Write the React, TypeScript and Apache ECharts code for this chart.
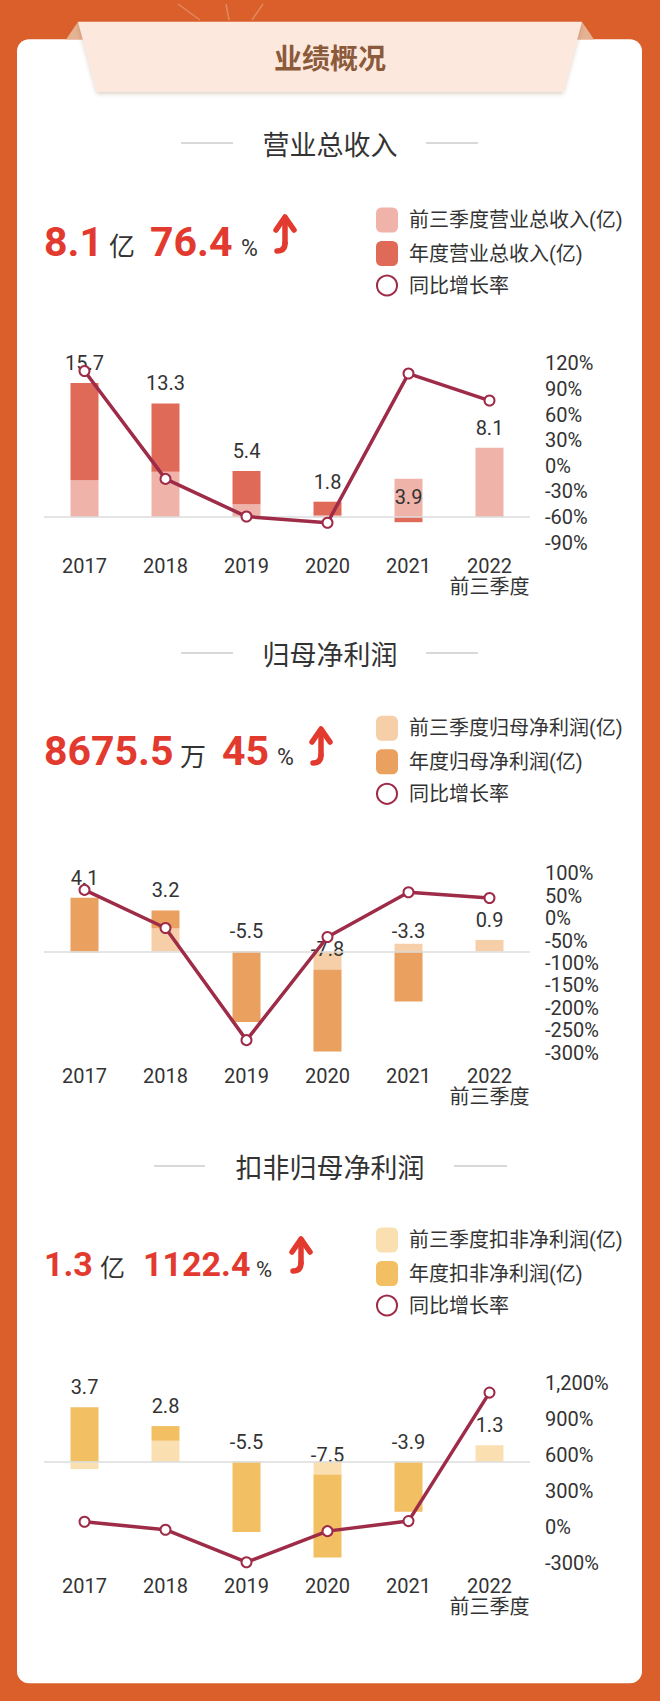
import React, { useEffect, useRef } from "react";
import * as echarts from "echarts";

const categories = ["2017", "2018", "2019", "2020", "2021", "2022\n前三季度"];

// 营业总收入 (亿)
const revQ3 = [4.3, 5.3, 1.5, 0.2, 4.5, 8.1];
const revAnnual = [15.7, 13.3, 5.4, 1.8, 3.9, null];
const revGrowth = [111, -15.3, -59.4, -66.7, 108, 76.4];

// 归母净利润 (亿)
const npQ3 = [-0.1, 1.8, 0, -1.4, 0.6, 0.9];
const npAnnual = [4.1, 3.2, -5.5, -7.8, -3.3, null];
const npGrowth = [63, -22, -272, -42, 57.7, 45];

// 扣非净利润 (亿)
const dnQ3 = [-0.57, 1.65, 0, -1.0, 0, 1.3];
const dnAnnual = [3.7, 2.8, -5.5, -7.5, -3.9, null];
const dnGrowth = [42, -24, -296, -36, 48, 1122.4];

const RED = "#E23A2F";
const LINE = "#9E2B47";
const NUMFONT = "Roboto, 'Noto Sans CJK SC', sans-serif";
const CJK = "'Noto Sans CJK SC', Roboto, sans-serif";

const sections = [
  {
    title: "营业总收入",
    q3Name: "前三季度营业总收入(亿)",
    annName: "年度营业总收入(亿)",
    q3: revQ3, ann: revAnnual, growth: revGrowth,
    light: "#EFB3A9", dark: "#E06A58",
    leftMin: -3, leftMax: 18, leftInterval: 3,
    rightMin: -90, rightMax: 120, rightInterval: 30,
  },
  {
    title: "归母净利润",
    q3Name: "前三季度归母净利润(亿)",
    annName: "年度归母净利润(亿)",
    q3: npQ3, ann: npAnnual, growth: npGrowth,
    light: "#F6CFA8", dark: "#EAA05E",
    leftMin: -7.9, leftMax: 6.1, leftInterval: undefined,
    rightMin: -300, rightMax: 100, rightInterval: 50,
  },
  {
    title: "扣非归母净利润",
    q3Name: "前三季度扣非净利润(亿)",
    annName: "年度扣非净利润(亿)",
    q3: dnQ3, ann: dnAnnual, growth: dnGrowth,
    light: "#FAE0B0", dark: "#F2BF62",
    leftMin: -7.9, leftMax: 6.15, leftInterval: undefined,
    rightMin: -300, rightMax: 1200, rightInterval: 300,
  },
];

const gridTops = [363.3, 873.3, 1383.3];
const legendTops = [207.5, 715.8, 1227.5];
const titleYs = [143, 653, 1166];

function arrow(x: number, top: number, bottom: number) {
  const st = { stroke: RED, lineWidth: 5.5, fill: null, lineCap: "round", lineJoin: "round" };
  return [
    { type: "polyline", shape: { points: [[x - 9, top + 13], [x, top], [x + 9, top + 13]] }, style: st },
    { type: "line", shape: { x1: x, y1: top + 1, x2: x, y2: bottom - 8 }, style: st },
    { type: "bezierCurve", shape: { x1: x, y1: bottom - 8, cpx1: x, cpy1: bottom, x2: x - 8, y2: bottom }, style: st },
  ];
}

function txt(text: string, x: number, y: number, size: number, color: string, bold = false, family = NUMFONT, align = "left") {
  return {
    type: "text",
    x, y,
    style: {
      text, fill: color, fontSize: size, fontWeight: bold ? "bold" : "normal",
      fontFamily: family, textAlign: align, textVerticalAlign: "middle",
    },
  };
}

function titleBlock(title: string, y: number, l1: number[], l2: number[]) {
  const ls = { stroke: "#CCCCCC", lineWidth: 1.5 };
  return [
    txt(title, 330, y, 27, "#333333", false, CJK, "center"),
    { type: "line", shape: { x1: l1[0], y1: y, x2: l1[1], y2: y }, style: ls },
    { type: "line", shape: { x1: l2[0], y1: y, x2: l2[1], y2: y }, style: ls },
  ];
}

export default function App() {
  const ref = useRef<HTMLDivElement>(null);
  useEffect(() => {
    if (!ref.current) return;
    const chart = echarts.init(ref.current, undefined, { renderer: "svg" });

    const graphic: any[] = [
      { type: "line", shape: { x1: 178, y1: 4, x2: 200, y2: 20 }, style: { stroke: "rgba(255,255,255,0.25)", lineWidth: 1.5 } },
      { type: "line", shape: { x1: 226, y1: 4, x2: 229, y2: 20 }, style: { stroke: "rgba(255,255,255,0.25)", lineWidth: 1.5 } },
      { type: "line", shape: { x1: 263, y1: 4, x2: 252, y2: 20 }, style: { stroke: "rgba(255,255,255,0.25)", lineWidth: 1.5 } },
      { type: "rect", shape: { x: 17, y: 39.3, width: 625, height: 1644, r: 12 }, style: { fill: "#FFFFFF" } },
      { type: "polygon", shape: { points: [[66, 39.5], [78, 21.7], [85, 39.5]] }, style: { fill: "#E5B292" } },
      { type: "polygon", shape: { points: [[594, 39.5], [582, 21.7], [575, 39.5]] }, style: { fill: "#E5B292" } },
      {
        type: "polygon",
        shape: { points: [[78, 21.7], [582, 21.7], [563, 91.7], [97, 91.7]] },
        style: { fill: "#FCE8DD", shadowBlur: 4, shadowColor: "rgba(120,60,30,0.25)", shadowOffsetY: 2 },
      },
      txt("业绩概况", 330, 57, 28, "#8B5A3B", true, CJK, "center"),
      ...titleBlock("营业总收入", titleYs[0], [181, 233], [426, 478]),
      ...titleBlock("归母净利润", titleYs[1], [181, 233], [426, 478]),
      ...titleBlock("扣非归母净利润", titleYs[2], [154, 205], [454, 507]),
      // section 1 headline
      txt("8.1", 44, 242, 41, RED, true),
      txt("亿", 109, 244, 26, "#333333", false, CJK),
      txt("76.4", 150, 242, 41, RED, true),
      txt("%", 241, 248, 23, "#333333"),
      ...arrow(285, 217, 251),
      // section 2 headline
      txt("8675.5", 44, 751, 41, RED, true),
      txt("万", 180, 754, 26, "#333333", false, CJK),
      txt("45", 222, 751, 41, RED, true),
      txt("%", 277, 757, 23, "#333333"),
      ...arrow(321, 729, 763),
      // section 3 headline
      txt("1.3", 44, 1264, 34, RED, true),
      txt("亿", 100, 1266, 25, "#333333", false, CJK),
      txt("1122.4", 143, 1264, 34, RED, true),
      txt("%", 256, 1269, 22, "#333333"),
      ...arrow(301, 1239, 1271),
    ];

    const grid: any[] = [];
    const xAxis: any[] = [];
    const yAxis: any[] = [];
    const series: any[] = [];
    const legend: any[] = [];

    sections.forEach((s, i) => {
      grid.push({ left: 44, width: 486, top: gridTops[i], height: 179.4 });
      xAxis.push({
        type: "category", gridIndex: i, data: categories,
        axisLine: { show: false }, axisTick: { show: false }, splitLine: { show: false },
        axisLabel: { color: "#333333", fontSize: 20, fontFamily: NUMFONT, margin: 13, lineHeight: 21, interval: 0 },
      });
      yAxis.push({
        type: "value", gridIndex: i, show: false, min: s.leftMin, max: s.leftMax,
        interval: s.leftInterval, splitLine: { show: false },
      });
      yAxis.push({
        type: "value", gridIndex: i, position: "right", min: s.rightMin, max: s.rightMax, interval: s.rightInterval,
        axisLine: { show: false }, axisTick: { show: false }, splitLine: { show: false },
        axisLabel: {
          color: "#333333", fontSize: 20, fontFamily: NUMFONT, margin: 15,
          formatter: (v: number) => v.toLocaleString("en-US") + "%",
        },
      });
      const q4 = s.ann.map((a, k) => (a === null ? "-" : Math.round((a - s.q3[k]) * 100) / 100));
      const q3Data = s.q3.map((v, k) =>
        s.ann[k] === null
          ? { value: v, label: { show: true, position: "top", distance: 10, formatter: () => v.toFixed(1) } }
          : v
      );
      series.push({
        name: s.q3Name, type: "bar", stack: "s" + i, xAxisIndex: i, yAxisIndex: i * 2,
        barWidth: 28, itemStyle: { color: s.light }, data: q3Data,
        label: { show: false, color: "#333333", fontSize: 20, fontFamily: NUMFONT },
        markLine: {
          silent: true, symbol: ["none", "none"], label: { show: false },
          lineStyle: { color: "#DDDDDD", width: 1.5, type: "solid" },
          data: [{ yAxis: 0 }],
        },
        z: 2,
      });
      series.push({
        name: s.annName, type: "bar", stack: "s" + i, xAxisIndex: i, yAxisIndex: i * 2,
        barWidth: 28, itemStyle: { color: s.dark }, data: q4,
        label: {
          show: true, position: "top", distance: 10, color: "#333333", fontSize: 20, fontFamily: NUMFONT,
          formatter: (p: any) => {
            const a = s.ann[p.dataIndex];
            return a === null ? "" : a.toFixed(1);
          },
        },
        z: 2,
      });
      series.push({
        name: "同比增长率", type: "line", xAxisIndex: i, yAxisIndex: i * 2 + 1,
        data: s.growth, symbol: "emptyCircle", symbolSize: 10,
        lineStyle: { color: LINE, width: 3.5 },
        itemStyle: { color: LINE, borderWidth: 2 },
        z: 5,
      });
      legend.push({
        orient: "vertical", left: 375, top: legendTops[i], padding: 0,
        itemWidth: 22, itemHeight: 25, itemGap: 8.5,
        textStyle: { color: "#333333", fontSize: 20, fontFamily: NUMFONT, padding: [0, 0, 0, 6] },
        data: [
          { name: s.q3Name, icon: "roundRect" },
          { name: s.annName, icon: "roundRect" },
          { name: "同比增长率" },
        ],
      });
    });

    chart.setOption({
      animation: false,
      backgroundColor: "#DA5F2A",
      graphic,
      grid, xAxis, yAxis, series, legend,
    });
    return () => chart.dispose();
  }, []);
  return <div ref={ref} style={{ position: "absolute", left: 0, top: 0, width: 660, height: 1701 }} />;
}
